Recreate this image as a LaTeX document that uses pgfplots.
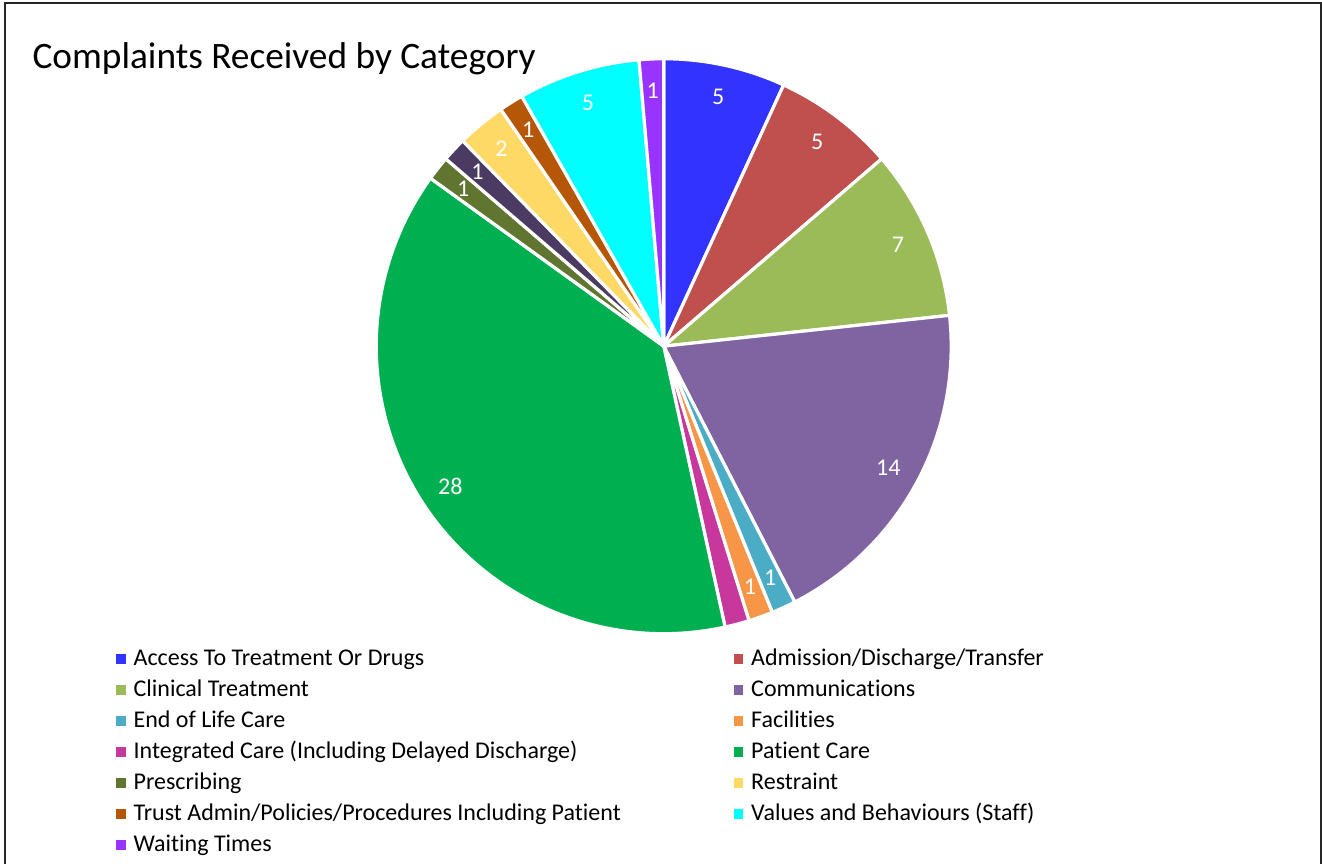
\documentclass[border=0pt]{standalone}
\usepackage{pgfplots}
\pgfplotsset{compat=1.18}
\usepackage{fontspec}
\setmainfont{Carlito}[Ligatures={NoCommon}]
\definecolor{cAccess}{HTML}{3333FF}
\definecolor{cAdmission}{HTML}{C0504D}
\definecolor{cClinical}{HTML}{9BBB59}
\definecolor{cComm}{HTML}{8064A2}
\definecolor{cEoL}{HTML}{4BACC6}
\definecolor{cFac}{HTML}{F79646}
\definecolor{cInteg}{HTML}{C8379B}
\definecolor{cPatient}{HTML}{00B050}
\definecolor{cPresc}{HTML}{5F7530}
\definecolor{cDark}{HTML}{4B3A62}
\definecolor{cRestr}{HTML}{FFD966}
\definecolor{cTrust}{HTML}{B65708}
\definecolor{cValues}{HTML}{00FFFF}
\definecolor{cWait}{HTML}{9933FF}
\begin{document}
\begin{tikzpicture}
\useasboundingbox (0,0) rectangle (495.75pt,323.625pt);
\draw[line width=0.6pt, black!85] (1.9pt,-2pt) -- (1.9pt,322.5pt) -- (495.3pt,322.5pt) -- (495.3pt,-2pt);
\node[anchor=base west, inner sep=0pt, font=\fontsize{14}{17}\selectfont] at (12pt,298.1pt) {Complaints Received by Category};
\begin{axis}[
 at={(248.9pt,193.8pt)}, anchor=center, scale only axis, width=215.6pt, height=215.6pt,
 xmin=-1, xmax=1, ymin=-1, ymax=1, hide axis, clip=false,
 legend columns=2,
 legend image code/.code={\fill[#1] (-0.1pt,-1.3pt) rectangle (3.5pt,2.3pt);},
 legend style={draw=none, fill=none, at={(-0.4526,-0.0193)}, anchor=north west, inner sep=0pt, outer sep=0pt, column sep=3pt, row sep=0pt, font=\fontsize{9}{11}\selectfont, nodes={inner sep=0pt, text height=7.6pt, text depth=4.025pt}},
 legend cell align=left,
]
\pgfplotsextra{
 \xdef\s{90}
 \foreach \v/\c/\l in {5/cAccess/5, 5/cAdmission/5, 7/cClinical/7, 14/cComm/14, 1/cEoL/1, 1/cFac/1, 1/cInteg/{}, 28/cPatient/28, 1/cPresc/1, 1/cDark/1, 2/cRestr/2, 1/cTrust/1, 5/cValues/5, 1/cWait/1} {
   \pgfmathsetmacro\e{\s-\v*360/73}
   \pgfmathsetmacro\m{(\s+\e)/2}
   \filldraw[fill=\c, draw=white, line width=1.2pt] (axis cs:0,0) -- (axis cs:{cos(\s)},{sin(\s)}) arc[start angle=\s, end angle=\e, radius=107.8pt] -- cycle;
   \node[white, font=\fontsize{9}{11}\selectfont, inner sep=0pt] at (axis cs:{0.888*cos(\m)},{0.888*sin(\m)}) {\l};
   \xdef\s{\e}
 }
}
\addlegendimage{fill=cAccess, draw=none}
\addlegendentry{\makebox[222pt][l]{Access To Treatment Or Drugs}}
\addlegendimage{fill=cAdmission, draw=none}
\addlegendentry{Admission/Discharge/Transfer}
\addlegendimage{fill=cClinical, draw=none}
\addlegendentry{\makebox[222pt][l]{Clinical Treatment}}
\addlegendimage{fill=cComm, draw=none}
\addlegendentry{Communications}
\addlegendimage{fill=cEoL, draw=none}
\addlegendentry{\makebox[222pt][l]{End of Life Care}}
\addlegendimage{fill=cFac, draw=none}
\addlegendentry{Facilities}
\addlegendimage{fill=cInteg, draw=none}
\addlegendentry{\makebox[222pt][l]{Integrated Care (Including Delayed Discharge)}}
\addlegendimage{fill=cPatient, draw=none}
\addlegendentry{Patient Care}
\addlegendimage{fill=cPresc, draw=none}
\addlegendentry{\makebox[222pt][l]{Prescribing}}
\addlegendimage{fill=cRestr, draw=none}
\addlegendentry{Restraint}
\addlegendimage{fill=cTrust, draw=none}
\addlegendentry{\makebox[222pt][l]{Trust Admin/Policies/Procedures Including Patient}}
\addlegendimage{fill=cValues, draw=none}
\addlegendentry{Values and Behaviours (Staff)}
\addlegendimage{fill=cWait, draw=none}
\addlegendentry{\makebox[222pt][l]{Waiting Times}}
\end{axis}
\end{tikzpicture}
\end{document}
